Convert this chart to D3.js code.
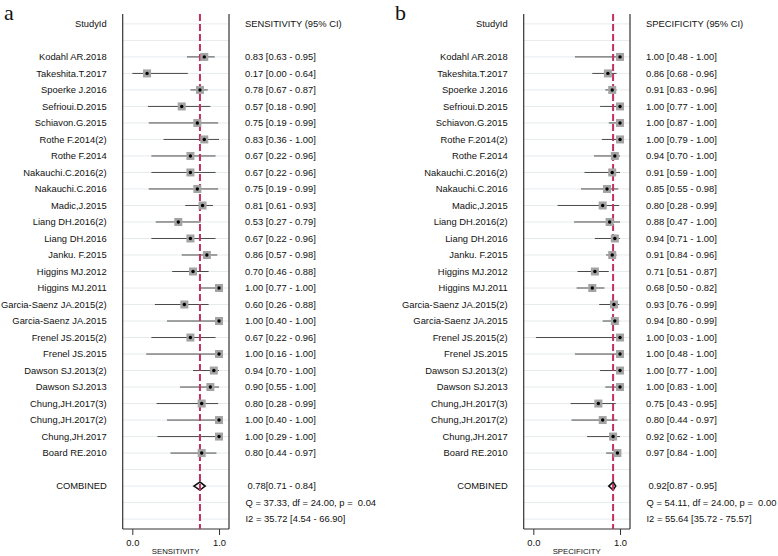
<!DOCTYPE html>
<html><head><meta charset="utf-8">
<script src="https://cdn.jsdelivr.net/npm/d3@7"></script>
<style>body{margin:0;background:#fff}svg{display:block}text{font-family:"Liberation Sans",Arial,sans-serif;fill:#111;white-space:pre}</style>
</head><body><svg id="c" width="778" height="556"></svg>
<script>
const studies = ["Kodahl AR.2018","Takeshita.T.2017","Spoerke J.2016","Sefrioui.D.2015","Schiavon.G.2015","Rothe F.2014(2)","Rothe F.2014","Nakauchi.C.2016(2)","Nakauchi.C.2016","Madic,J.2015","Liang DH.2016(2)","Liang DH.2016","Janku. F.2015","Higgins MJ.2012","Higgins MJ.2011","Garcia-Saenz JA.2015(2)","Garcia-Saenz JA.2015","Frenel JS.2015(2)","Frenel JS.2015","Dawson SJ.2013(2)","Dawson SJ.2013","Chung,JH.2017(3)","Chung,JH.2017(2)","Chung,JH.2017","Board RE.2010"];
const sensEst = [0.83,0.17,0.78,0.57,0.75,0.83,0.67,0.67,0.75,0.81,0.53,0.67,0.86,0.70,1.00,0.60,1.00,0.67,1.00,0.94,0.90,0.80,1.00,1.00,0.80];
const sensLo  = [0.63,0.00,0.67,0.18,0.19,0.36,0.22,0.22,0.19,0.61,0.27,0.22,0.57,0.46,0.77,0.26,0.40,0.22,0.16,0.70,0.55,0.28,0.40,0.29,0.44];
const sensHi  = [0.95,0.64,0.87,0.90,0.99,1.00,0.96,0.96,0.99,0.93,0.79,0.96,0.98,0.88,1.00,0.88,1.00,0.96,1.00,1.00,1.00,0.99,1.00,1.00,0.97];
const specEst = [1.00,0.86,0.91,1.00,1.00,1.00,0.94,0.91,0.85,0.80,0.88,0.94,0.91,0.71,0.68,0.93,0.94,1.00,1.00,1.00,1.00,0.75,0.80,0.92,0.97];
const specLo  = [0.48,0.68,0.83,0.77,0.87,0.79,0.70,0.59,0.55,0.28,0.47,0.71,0.84,0.51,0.50,0.76,0.80,0.03,0.48,0.77,0.83,0.43,0.44,0.62,0.84];
const specHi  = [1.00,0.96,0.96,1.00,1.00,1.00,1.00,1.00,0.98,0.99,1.00,1.00,0.96,0.87,0.82,0.99,0.99,1.00,1.00,1.00,1.00,0.95,0.97,1.00,1.00];
const sensPooled = [0.78,0.71,0.84];
const specPooled = [0.92,0.87,0.95];
const sensStats = ["Q = 37.33, df = 24.00, p =  0.04","I2 = 35.72 [4.54 - 66.90]"];
const specStats = ["Q = 54.11, df = 24.00, p =  0.00","I2 = 55.64 [35.72 - 75.57]"];
const xTicks = [0, 1];

const svg = d3.select("#c");
const fmt = d3.format(".2f");
const y = d3.scaleLinear().domain([-2.6, 28.6]).range([14, 529]);

function panel(off, letter, name, est, lo, hi, pooled, stats) {
  const g = svg.append("g").attr("transform", `translate(${off},0)`);
  const x = d3.scaleLinear().domain([-0.111, 1.115]).range([122.7, 229]);
  const x0 = x.range()[0], x1 = x.range()[1];
  g.selectAll("line.grid").data(d3.range(-2, 29)).join("line")
    .attr("x1", x0).attr("x2", x1).attr("y1", d => y(d)).attr("y2", d => y(d))
    .attr("stroke", "#e6ebee").attr("stroke-width", 1);
  g.append("line").attr("x1", x0).attr("x2", x0).attr("y1", y(-2.6)).attr("y2", y(28.6)).attr("stroke", "#333").attr("stroke-width", 1.2);
  g.append("line").attr("x1", x1).attr("x2", x1).attr("y1", y(-2.6)).attr("y2", y(28.6)).attr("stroke", "#333").attr("stroke-width", 1.2);
  const ax = g.append("g").attr("transform", `translate(0,${y(28.6)})`)
    .call(d3.axisBottom(x).tickValues(xTicks).tickFormat(d3.format(".1f")).tickSize(6).tickPadding(4));
  ax.select(".domain").attr("stroke", "#333").attr("stroke-width", 1.2).attr("d", `M${x0},0H${x1}`);
  ax.selectAll(".tick line").attr("stroke", "#333");
  ax.selectAll("text").attr("font-size", 9.4).attr("font-family", '"Liberation Sans",Arial,sans-serif').attr("fill", "#111");
  g.append("text").attr("x", (x(0) + x(1)) / 2).attr("y", 554).attr("text-anchor", "middle").attr("font-size", 7.8).text(name);
  g.selectAll("line.ci").data(studies).join("line")
    .attr("x1", (d, i) => x(lo[i])).attr("x2", (d, i) => x(hi[i]))
    .attr("y1", (d, i) => y(i)).attr("y2", (d, i) => y(i))
    .attr("stroke", "#4a4a4a").attr("stroke-width", 1);
  const yc = y(26);
  g.append("path").attr("d", `M${x(pooled[1])},${yc}L${x(pooled[0])},${yc - 4}L${x(pooled[2])},${yc}L${x(pooled[0])},${yc + 4}Z`)
    .attr("fill", "none").attr("stroke", "#111").attr("stroke-width", 1.6);
  g.append("line").attr("x1", x(pooled[0])).attr("x2", x(pooled[0])).attr("y1", y(-2.6)).attr("y2", y(28.6))
    .attr("stroke", "#c2305e").attr("stroke-width", 2).attr("stroke-dasharray", "7,3");
  const s = 8;
  g.selectAll("rect.sq").data(studies).join("rect")
    .attr("x", (d, i) => x(est[i]) - s / 2).attr("y", (d, i) => y(i) - s / 2)
    .attr("width", s).attr("height", s).attr("fill", "#a3a3a3");
  g.selectAll("circle.pt").data(studies).join("circle")
    .attr("cx", (d, i) => x(est[i])).attr("cy", (d, i) => y(i)).attr("r", 1.7).attr("fill", "#000");
  g.append("text").attr("x", 106.7).attr("y", y(-2)).attr("dy", "0.35em").attr("text-anchor", "end").attr("font-size", 9.4).text("StudyId");
  g.selectAll("text.st").data(studies).join("text")
    .attr("x", 106.7).attr("y", (d, i) => y(i)).attr("dy", "0.35em").attr("text-anchor", "end").attr("font-size", 9.4).text(d => d);
  g.append("text").attr("x", 106.7).attr("y", y(26)).attr("dy", "0.35em").attr("text-anchor", "end").attr("font-size", 9.4).text("COMBINED");
  g.append("text").attr("x", 245).attr("y", y(-2)).attr("dy", "0.35em").attr("font-size", 9.4).text(name + " (95% CI)");
  g.selectAll("text.val").data(studies).join("text")
    .attr("x", 245).attr("y", (d, i) => y(i)).attr("dy", "0.35em").attr("font-size", 9.4)
    .text((d, i) => `${fmt(est[i])} [${fmt(lo[i])} - ${fmt(hi[i])}]`);
  g.append("text").attr("x", 247.5).attr("y", y(26)).attr("dy", "0.35em").attr("font-size", 9.4)
    .text(`${fmt(pooled[0])}[${fmt(pooled[1])} - ${fmt(pooled[2])}]`);
  g.selectAll("text.stat").data(stats).join("text")
    .attr("x", 245.5).attr("y", (d, i) => y(27 + i)).attr("dy", "0.35em").attr("font-size", 9.4).text(d => d);
  g.append("text").attr("x", letter === "a" ? 4 : -6).attr("y", 20).attr("font-size", 22)
    .style("font-family", '"Liberation Serif","Times New Roman",serif').text(letter);
}
panel(0, "a", "SENSITIVITY", sensEst, sensLo, sensHi, sensPooled, sensStats);
panel(401, "b", "SPECIFICITY", specEst, specLo, specHi, specPooled, specStats);
</script></body></html>
